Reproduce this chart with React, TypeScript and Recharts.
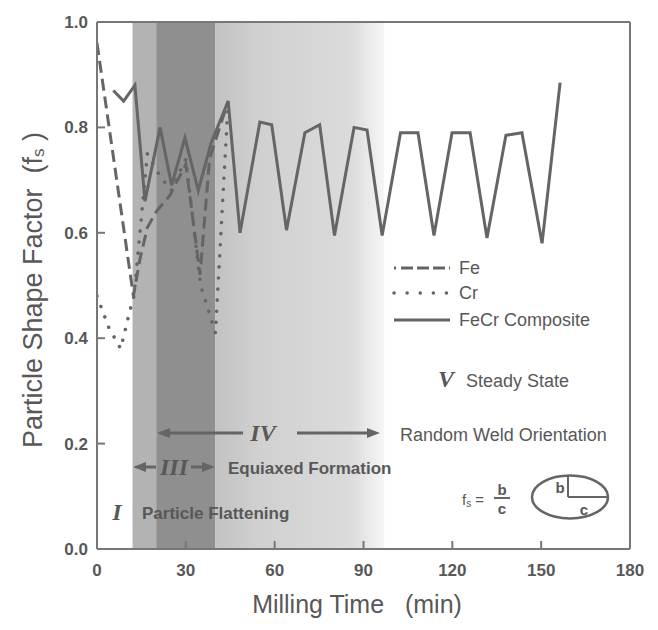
import React from 'react';
import { LineChart, Line, XAxis, YAxis, ReferenceArea } from 'recharts';

// milling time (min) and shape factor per material
const FE_TIME = [0, 12.3, 14.5, 17, 20, 24.5, 30, 34.8, 38, 44.3];
const FE_FS = [0.96, 0.48, 0.55, 0.61, 0.64, 0.67, 0.73, 0.52, 0.74, 0.85];

const CR_TIME = [0, 4, 8, 11, 12.5, 17, 21, 25, 30, 35, 40, 44.3];
const CR_FS = [0.48, 0.42, 0.38, 0.45, 0.48, 0.75, 0.71, 0.68, 0.74, 0.5, 0.41, 0.85];

const FECR_TIME = [
  5.5, 9, 12.8, 16.2, 21.3, 25.2, 29.7, 34.2, 38.5, 44.3, 48.3, 55, 59, 64, 70.2,
  75.2, 80.2, 86.8, 91.2, 96.3, 102.5, 108.4, 113.8, 119.9, 126, 131.7, 138.1,
  143.5, 150.3, 156.4,
];
const FECR_FS = [
  0.87, 0.85, 0.88, 0.66, 0.8, 0.69, 0.78, 0.68, 0.77, 0.85, 0.6, 0.81, 0.805,
  0.605, 0.79, 0.805, 0.595, 0.8, 0.795, 0.595, 0.79, 0.79, 0.595, 0.79, 0.79,
  0.59, 0.785, 0.79, 0.58, 0.885,
];

// stage boundaries (min): II starts, III band, end of IV shading
const STAGE_EDGES = [12, 20, 40, 97];

const X_TICKS = [0, 30, 60, 90, 120, 150, 180];
const Y_TICKS = [0, 0.2, 0.4, 0.6, 0.8, 1.0];

const toRows = (t: number[], v: number[]) => t.map((x, i) => ({ t: x, fs: v[i] }));

const feData = toRows(FE_TIME, FE_FS);
const crData = toRows(CR_TIME, CR_FS);
const fecrData = toRows(FECR_TIME, FECR_FS);

const INK = '#656565';
const TEXT = '#585858';
const SANS = '"Liberation Sans", Arial, sans-serif';
const SERIF = '"Liberation Serif", "DejaVu Serif", serif';

const tickStyle = { fill: TEXT, fontSize: 17, fontWeight: 700, fontFamily: SANS };

function Arrow({ x1, x2, y }: { x1: number; x2: number; y: number }) {
  const dir = x2 > x1 ? 1 : -1;
  return (
    <g>
      <line x1={x1} y1={y} x2={x2 - dir * 6} y2={y} stroke={INK} strokeWidth={3} />
      <path d={`M${x2},${y} L${x2 - dir * 13},${y - 5} L${x2 - dir * 13},${y + 5} Z`} fill={INK} />
    </g>
  );
}

function Annotations() {
  const txt = { fill: TEXT, fontFamily: SANS, fontSize: 18 };
  const bold = { fill: TEXT, fontFamily: SANS, fontSize: 17, fontWeight: 700 };
  const roman = { fill: TEXT, fontFamily: SERIF, fontStyle: 'italic', fontWeight: 700, fontSize: 24 };
  return (
    <svg
      width={658}
      height={630}
      style={{ position: 'absolute', left: 0, top: 0, pointerEvents: 'none' }}
    >
      {/* axis titles */}
      <text
        transform="translate(33,290) rotate(-90)"
        textAnchor="middle"
        dominantBaseline="central"
        fill={TEXT}
        fontFamily={SANS}
        fontSize={27}
        style={{ whiteSpace: 'pre' }}
      >
        Particle Shape Factor  (f<tspan fontSize={17} dy={5}>s</tspan>
        <tspan dy={-5}> )</tspan>
      </text>
      <text
        x={357}
        y={604}
        textAnchor="middle"
        dominantBaseline="central"
        fill={TEXT}
        fontFamily={SANS}
        fontSize={25}
        style={{ whiteSpace: 'pre' }}
      >
        Milling Time   (min)
      </text>

      {/* legend */}
      <line x1={394} y1={268} x2={450} y2={268} stroke={INK} strokeWidth={3} strokeDasharray="2 5 12 4 12 4 12 4" />
      <text x={459} y={268} dominantBaseline="central" {...txt}>Fe</text>
      <line x1={394} y1={293} x2={450} y2={293} stroke={INK} strokeWidth={3.5} strokeDasharray="0.1 13" strokeLinecap="round" />
      <text x={459} y={293} dominantBaseline="central" {...txt}>Cr</text>
      <line x1={394} y1={320} x2={450} y2={320} stroke={INK} strokeWidth={3} />
      <text x={459} y={320} dominantBaseline="central" {...txt}>FeCr Composite</text>

      {/* stages */}
      <text x={446} y={379} textAnchor="middle" dominantBaseline="central" {...roman}>V</text>
      <text x={466} y={381} dominantBaseline="central" {...txt}>Steady State</text>

      <Arrow x1={243} x2={157} y={433} />
      <Arrow x1={297} x2={380} y={433} />
      <text x={263} y={433} textAnchor="middle" dominantBaseline="central" {...roman}>IV</text>
      <text x={400} y={435} dominantBaseline="central" {...txt}>Random Weld Orientation</text>

      <Arrow x1={156} x2={133} y={467} />
      <Arrow x1={191} x2={215} y={467} />
      <text x={174} y={467} textAnchor="middle" dominantBaseline="central" {...roman}>III</text>
      <text x={228} y={468} dominantBaseline="central" {...bold}>Equiaxed Formation</text>

      <text x={117} y={512} textAnchor="middle" dominantBaseline="central" {...roman}>I</text>
      <text x={142} y={513} dominantBaseline="central" {...bold}>Particle Flattening</text>

      {/* shape factor definition */}
      <text x={462} y={499} dominantBaseline="central" fill={TEXT} fontFamily={SANS} fontSize={15}>
        f<tspan fontSize={10} dy={4}>s</tspan>
        <tspan dy={-4}> =</tspan>
      </text>
      <text x={502} y={489} textAnchor="middle" dominantBaseline="central" fill={TEXT} fontFamily={SANS} fontSize={15} fontWeight={700}>b</text>
      <line x1={494} y1={498} x2={510} y2={498} stroke={INK} strokeWidth={2} />
      <text x={502} y={508} textAnchor="middle" dominantBaseline="central" fill={TEXT} fontFamily={SANS} fontSize={15} fontWeight={700}>c</text>
      <ellipse cx={570} cy={497} rx={38} ry={21.5} fill="none" stroke={INK} strokeWidth={2.5} />
      <line x1={568} y1={476} x2={568} y2={497} stroke={INK} strokeWidth={2} />
      <line x1={568} y1={497} x2={608} y2={497} stroke={INK} strokeWidth={2} />
      <text x={560} y={487} textAnchor="middle" dominantBaseline="central" fill={TEXT} fontFamily={SANS} fontSize={15} fontWeight={700}>b</text>
      <text x={584} y={509} textAnchor="middle" dominantBaseline="central" fill={TEXT} fontFamily={SANS} fontSize={15} fontWeight={700}>c</text>
    </svg>
  );
}

export default function App() {
  const [s2, s3a, s3b, sEnd] = STAGE_EDGES;
  return (
    <div style={{ position: 'absolute', left: 0, top: 0, width: 658, height: 630, background: '#fff' }}>
      <LineChart width={658} height={630} margin={{ top: 12, right: 18, bottom: 51, left: 37 }}>
        <defs>
          <linearGradient id="fadeBand" x1="0" y1="0" x2="1" y2="0">
            <stop offset="0%" stopColor="#c2c2c2" />
            <stop offset="25%" stopColor="#d0d0d0" />
            <stop offset="80%" stopColor="#dbdbdb" />
            <stop offset="100%" stopColor="#f6f6f6" />
          </linearGradient>
        </defs>
        <XAxis
          dataKey="t"
          type="number"
          domain={[0, 180]}
          ticks={X_TICKS}
          allowDataOverflow
          height={30}
          tickSize={-8}
          tickMargin={23}
          axisLine={{ stroke: '#777', strokeWidth: 2 }}
          tickLine={{ stroke: '#777', strokeWidth: 2 }}
          tick={tickStyle}
        />
        <XAxis
          xAxisId="top"
          orientation="top"
          dataKey="t"
          type="number"
          domain={[0, 180]}
          ticks={X_TICKS}
          height={10}
          tickSize={-8}
          tickFormatter={() => ''}
          axisLine={{ stroke: '#777', strokeWidth: 2 }}
          tickLine={{ stroke: '#777', strokeWidth: 2 }}
        />
        <YAxis
          type="number"
          domain={[0, 1]}
          ticks={Y_TICKS}
          width={60}
          tickSize={-8}
          tickMargin={17}
          tickFormatter={(v: number) => v.toFixed(1)}
          axisLine={{ stroke: '#777', strokeWidth: 2 }}
          tickLine={{ stroke: '#777', strokeWidth: 2 }}
          tick={tickStyle}
        />
        <YAxis
          yAxisId="right"
          orientation="right"
          type="number"
          domain={[0, 1]}
          ticks={Y_TICKS}
          width={10}
          tickSize={-8}
          tickFormatter={() => ''}
          axisLine={{ stroke: '#777', strokeWidth: 2 }}
          tickLine={{ stroke: '#777', strokeWidth: 2 }}
        />
        <ReferenceArea x1={s2} x2={s3a} fill="#b3b3b3" fillOpacity={1} />
        <ReferenceArea x1={s3a} x2={s3b} fill="#8f8f8f" fillOpacity={1} />
        <ReferenceArea x1={s3b} x2={sEnd} fill="url(#fadeBand)" fillOpacity={1} />
        <Line
          data={feData}
          dataKey="fs"
          type="linear"
          stroke={INK}
          strokeWidth={3}
          strokeDasharray="12 6"
          dot={false}
          activeDot={false}
          isAnimationActive={false}
        />
        <Line
          data={crData}
          dataKey="fs"
          type="linear"
          stroke={INK}
          strokeWidth={3.5}
          strokeDasharray="0.1 11"
          strokeLinecap="round"
          dot={false}
          activeDot={false}
          isAnimationActive={false}
        />
        <Line
          data={fecrData}
          dataKey="fs"
          type="linear"
          stroke={INK}
          strokeWidth={3}
          dot={false}
          activeDot={false}
          isAnimationActive={false}
        />
      </LineChart>
      <Annotations />
    </div>
  );
}
